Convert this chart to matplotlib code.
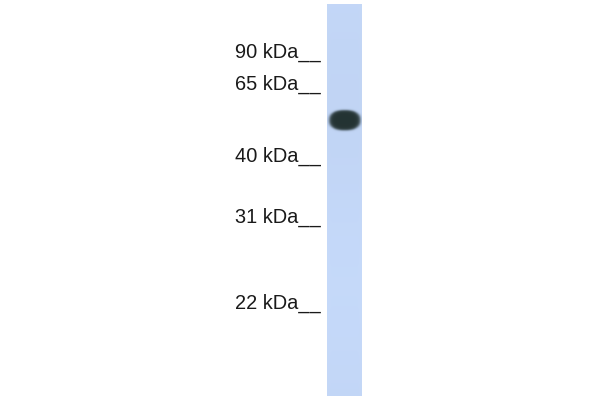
import numpy as np
import matplotlib
matplotlib.use("Agg")
import matplotlib.pyplot as plt

# Marker ladder (kDa) and their migration positions on the blot
marker_kda = [90, 65, 40, 31, 22]
marker_pos = [61, 93, 165, 226, 312]
# Detected band
band_kda = [52]
band_pos = [120]
band_intensity = [1.0]

lane_left, lane_right = 327, 362
lane_top, lane_bottom = 4, 396

fig = plt.figure(figsize=(6, 4), dpi=100)
ax = fig.add_axes([0, 0, 1, 1])
ax.set_xlim(0, 600)
ax.set_ylim(400, 0)
ax.axis("off")

# Lane background with band
H, W = 400, 40
ys = np.linspace(lane_top, lane_bottom, H)
xs = np.linspace(lane_left, lane_right, W)
X, Y = np.meshgrid(xs, ys)
lane_rgb = np.array([0.765, 0.843, 0.970])
img = np.ones((H, W, 3)) * lane_rgb
img *= (1.0 - 0.01 * np.sin((Y - lane_top) / 60.0))[..., None]
edge = np.exp(-((X - lane_left) / 2.0) ** 2) + np.exp(-((lane_right - X) / 2.0) ** 2)
img = img * (1 - 0.05 * edge[..., None]) + 0.05 * edge[..., None] * np.array([0.85, 0.88, 0.92])
dark = np.array([0.14, 0.20, 0.20])
cx = (lane_left + lane_right) / 2 + 0.3
for pos, inten in zip(band_pos, band_intensity):
    r = (np.abs((X - cx) / 18.0) ** 2.4 + np.abs((Y - pos) / 11.5) ** 2.4)
    a = inten * np.clip(1.0 / (1 + np.exp((r - 0.72) / 0.10)), 0, 1)
    img = img * (1 - a[..., None]) + dark * a[..., None]
ax.imshow(np.clip(img, 0, 1), extent=(lane_left, lane_right, lane_bottom, lane_top),
          aspect="auto", interpolation="bilinear", zorder=1)

for kda, pos in zip(marker_kda, marker_pos):
    ax.text(321, pos - 3.3, f"{kda} kDa__", ha="right", va="baseline",
            fontsize=14.4, family="Liberation Sans", color="#1a1a1a", zorder=2)

fig.savefig("out.png", dpi=100)
